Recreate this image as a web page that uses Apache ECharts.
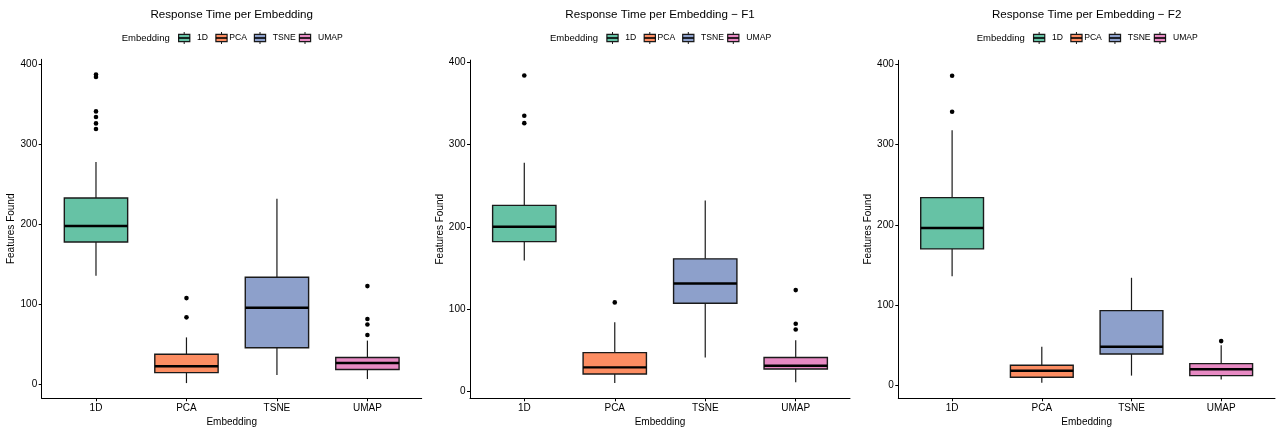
<!DOCTYPE html>
<html>
<head>
<meta charset="utf-8">
<script src="https://cdn.jsdelivr.net/npm/echarts@6/dist/echarts.min.js"></script>
<style>html,body{margin:0;padding:0;background:#fff}#c{width:1279px;height:429px}</style>
</head>
<body>
<div id="c"></div>
<script>
// ---------------- data ----------------
const categories = ['1D', 'PCA', 'TSNE', 'UMAP'];
const yTicks = [0, 100, 200, 300, 400];
const titles = ['Response Time per Embedding', 'Response Time per Embedding \u2212 F1', 'Response Time per Embedding \u2212 F2'];
const legendTitle = 'Embedding';
const xName = 'Embedding';
const yName = 'Features Found';
// each box: [lower whisker, Q1, median, Q3, upper whisker]
const boxAll = [[136, 178, 198, 233, 278], [2, 15, 23, 38, 59], [12, 46, 96, 134, 232], [7, 19, 27, 34, 55]];
const outAll = [[387, 384, 341, 334, 326, 319], [108, 84], [], [123, 82, 75, 62]];
const boxF1 = [[159, 182, 200, 226, 278], [10, 21, 29, 47, 84], [41, 107, 131, 161, 232], [11, 27, 31, 41, 62]];
const outF1 = [[384, 335, 326], [108], [], [123, 82, 75]];
const boxF2 = [[136, 170, 196, 234, 318], [3, 10, 18, 25, 48], [12, 39, 48, 93, 134], [7, 12, 20, 27, 50]];
const outF2 = [[386, 341], [], [], [55]];

// ---------------- style / layout ----------------
const palette = ['#66C2A5', '#FC8D62', '#8DA0CB', '#E78AC3'];
const FONT = "'Liberation Sans', Arial, sans-serif";
const panels = [
  { boxes: boxAll, outs: outAll, left: 41.7, width: 380, top: 59.3, height: 339, ymin: -17, ymax: 406 },
  { boxes: boxF1, outs: outF1, left: 470, width: 380, top: 60.1, height: 338.2, ymin: -8.6, ymax: 402.7 },
  { boxes: boxF2, outs: outF2, left: 898.3, width: 376.7, top: 60.3, height: 338, ymin: -16.3, ymax: 405.2 }
];

const grids = [], xAxes = [], yAxes = [], series = [], graphics = [];

panels.forEach((p, pi) => {
  grids.push({ left: p.left, top: p.top, width: p.width, height: p.height, containLabel: false, outerBoundsMode: 'none' });
  xAxes.push({
    type: 'value', gridIndex: pi, min: 0.4, max: 4.6,
    name: xName, nameLocation: 'middle', nameGap: 13,
    nameTextStyle: { fontFamily: FONT, fontSize: 10, color: '#000' },
    splitLine: { show: false },
    axisLine: { show: true, onZero: false, lineStyle: { color: '#000', width: 1 } },
    axisTick: { show: true, length: 3, customValues: [1, 2, 3, 4], lineStyle: { color: '#000' } },
    axisLabel: { customValues: [1, 2, 3, 4], margin: 4.5, fontFamily: FONT, fontSize: 10, color: '#000',
      formatter: v => categories[Math.round(v) - 1] || '' }
  });
  yAxes.push({
    type: 'value', gridIndex: pi, min: p.ymin, max: p.ymax,
    name: yName, nameLocation: 'middle', nameGap: 24, nameRotate: 90,
    nameTextStyle: { fontFamily: FONT, fontSize: 10, color: '#000' },
    splitLine: { show: false },
    axisLine: { show: true, onZero: false, lineStyle: { color: '#000', width: 1 } },
    axisTick: { show: true, length: 3, customValues: yTicks, lineStyle: { color: '#000' } },
    axisLabel: { customValues: yTicks, margin: 4.5, fontFamily: FONT, fontSize: 10, color: '#000' }
  });
  series.push({
    type: 'custom', xAxisIndex: pi, yAxisIndex: pi,
    encode: { x: 0, y: [1, 2, 3, 4, 5] },
    data: p.boxes.map((b, i) => [i + 1].concat(b)),
    renderItem: function (params, api) {
      const x = api.value(0);
      const pMin = api.coord([x, api.value(1)]);
      const pQ1 = api.coord([x, api.value(2)]);
      const pMed = api.coord([x, api.value(3)]);
      const pQ3 = api.coord([x, api.value(4)]);
      const pMax = api.coord([x, api.value(5)]);
      const w = api.size([0.7, 0])[0];
      const cx = pMed[0];
      const col = palette[params.dataIndex % palette.length];
      return {
        type: 'group', children: [
          { type: 'line', shape: { x1: cx, y1: pMax[1], x2: cx, y2: pQ3[1] }, style: { stroke: '#1a1a1a', lineWidth: 1.2 } },
          { type: 'line', shape: { x1: cx, y1: pQ1[1], x2: cx, y2: pMin[1] }, style: { stroke: '#1a1a1a', lineWidth: 1.2 } },
          { type: 'rect', shape: { x: cx - w / 2, y: pQ3[1], width: w, height: pQ1[1] - pQ3[1] }, style: { fill: col, stroke: '#1a1a1a', lineWidth: 1.4 } },
          { type: 'line', shape: { x1: cx - w / 2, y1: pMed[1], x2: cx + w / 2, y2: pMed[1] }, style: { stroke: '#000', lineWidth: 2.4 } }
        ]
      };
    },
    silent: true, animation: false
  });
  const outData = [];
  p.outs.forEach((arr, i) => arr.forEach(v => outData.push([i + 1, v])));
  series.push({
    type: 'scatter', xAxisIndex: pi, yAxisIndex: pi, data: outData,
    symbol: 'circle', symbolSize: 4.6, itemStyle: { color: '#000', opacity: 1 }, silent: true, animation: false
  });

  // title & legend (centred over the panel)
  const c = p.left + p.width / 2;
  graphics.push({ type: 'text', x: c, y: 15, style: { text: titles[pi], align: 'center', verticalAlign: 'middle', font: '11.6px ' + FONT, fill: '#000' } });
  graphics.push({ type: 'text', x: c - 110, y: 38, style: { text: legendTitle, align: 'left', verticalAlign: 'middle', font: '9.5px ' + FONT, fill: '#000' } });
  const keyOff = [-47.5, -10.2, 28.3, 73.3];
  const labOff = [-34.7, -2.5, 41, 86.3];
  categories.forEach((cat, k) => {
    const kx = c + keyOff[k];
    const ky = 38;
    graphics.push({ type: 'line', shape: { x1: kx, y1: ky - 6, x2: kx, y2: ky + 6 }, style: { stroke: '#1a1a1a', lineWidth: 1 } });
    graphics.push({ type: 'rect', shape: { x: kx - 5.6, y: ky - 3.7, width: 11.2, height: 7.4 }, style: { fill: palette[k], stroke: '#1a1a1a', lineWidth: 1.2 } });
    graphics.push({ type: 'line', shape: { x1: kx - 5.6, y1: ky, x2: kx + 5.6, y2: ky }, style: { stroke: '#000', lineWidth: 1.6 } });
    graphics.push({ type: 'text', x: c + labOff[k], y: ky, style: { text: cat, align: 'left', verticalAlign: 'middle', font: '8.6px ' + FONT, fill: '#000' } });
  });
});

const chart = echarts.init(document.getElementById('c'), null, { renderer: 'canvas' });
chart.setOption({
  backgroundColor: '#fff',
  animation: false,
  grid: grids,
  xAxis: xAxes,
  yAxis: yAxes,
  series: series,
  graphic: graphics
});
</script>
</body>
</html>
